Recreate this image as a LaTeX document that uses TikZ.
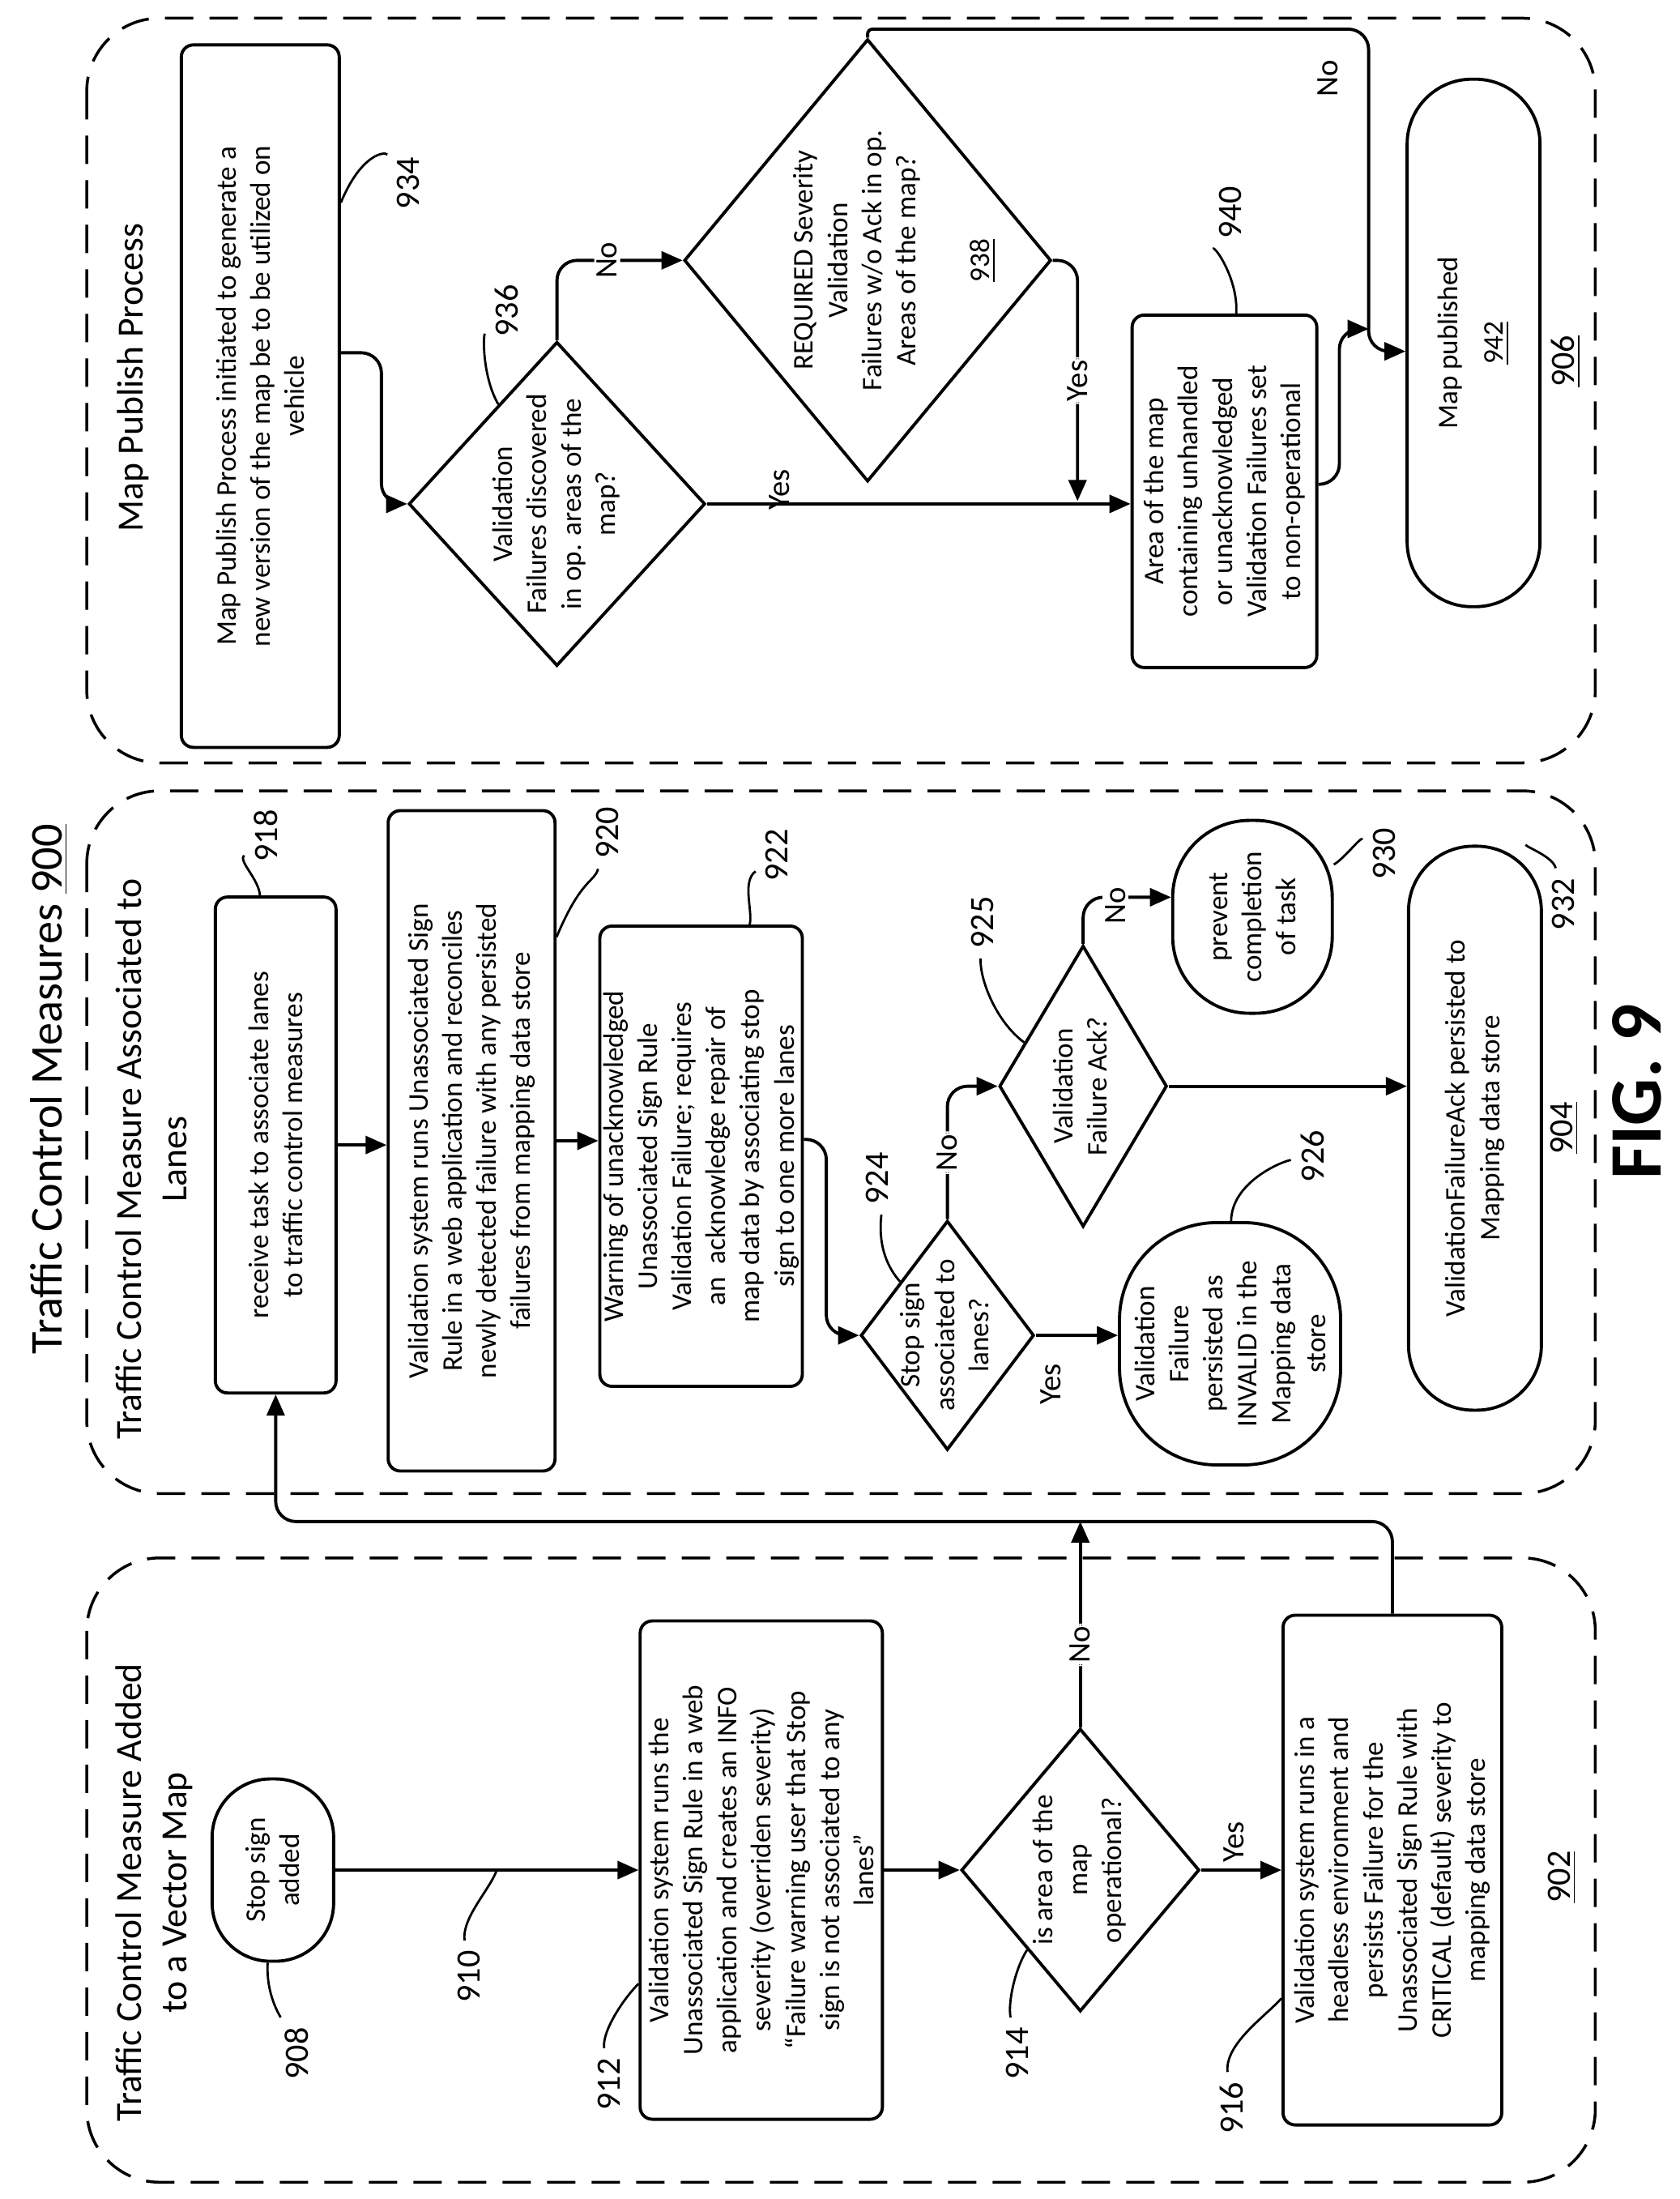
\documentclass[tikz,border=0pt]{standalone}
\usepackage{fontspec}
\setmainfont{Carlito}
\usetikzlibrary{shapes.geometric,arrows.meta,calc}
\newcommand{\dtext}[2][-2.5pt]{\smash{\makebox[0pt]{\raisebox{#1}{\begin{tabular}{@{}c@{}}#2\end{tabular}}}}}
\begin{document}
\begin{tikzpicture}[x=0.17275mm,y=-0.17275mm,>={Triangle[length=2.6mm,width=2.2mm]},
  box/.style={draw, rotate=90, align=center, inner sep=1pt, line width=1.1pt, rounded corners=1.5mm, font=\fontsize{10}{12}\selectfont},
  decision/.style={draw, diamond, rotate=90, inner sep=0pt, line width=1.1pt, font=\fontsize{10}{12}\selectfont},
  num/.style={rotate=90, font=\fontsize{12}{14}\selectfont},
  yn/.style={rotate=90, fill=white, inner sep=1pt, font=\fontsize{11}{13}\selectfont},
  arr/.style={->, line width=1.1pt, rounded corners=2.5mm},
  lead/.style={line width=0.8pt},
  frame/.style={dash pattern=on 3.5mm off 2mm, rounded corners=9mm, line width=1pt}]
  \useasboundingbox (0,0) rectangle (1200,1571);

  % panels
  \draw[frame] (62,13) rectangle (1140,545);
  \draw[frame] (62,565) rectangle (1140,1067);
  \draw[frame] (62,1113) rectangle (1140,1559);

  \node[rotate=90, font=\fontsize{16}{19}\selectfont] (title) at (35,778) {Traffic Control Measures \underline{900}};
  \node[rotate=90, font=\bfseries\fontsize{26}{30}\selectfont] (fig) at (1170,780) {FIG. 9};
  \node[rotate=90, align=center, font=\fontsize{13}{16}\selectfont] (t902) at (110,1352) {Traffic Control Measure Added\\to a Vector Map};
  \node[rotate=90, align=center, font=\fontsize{13}{16}\selectfont] (t904) at (108,828) {Traffic Control Measure Associated to\\Lanes};
  \node[rotate=90, font=\fontsize{13}{16}\selectfont] (t906) at (95,270) {Map Publish Process};

  % panel 902
  \node[box, minimum width=22.5mm, minimum height=15mm, rounded corners=7.2mm] (b908) at (195,1336) {Stop sign\\added};
  \node[box, minimum width=61.5mm, minimum height=29.9mm] (b912) at (544,1336) {Validation system runs the\\Unassociated Sign Rule in a web\\application and creates an INFO\\severity (overriden severity)\\“Failure warning user that Stop\\sign is not associated to any\\lanes”};
  \node[decision, minimum width=34.9mm, minimum height=29.4mm] (d914) at (772,1336) {\dtext{is area of the\\map\\operational?}};
  \node[box, minimum width=62.9mm, minimum height=27mm] (b916) at (995,1336) {Validation system runs in a\\headless environment and\\persists Failure for the\\Unassociated Sign Rule with\\CRITICAL (default) severity to\\mapping data store};

  % panel 904
  \node[box, minimum width=61.2mm, minimum height=14.9mm] (b918) at (197,818) {receive task to associate lanes\\to traffic control measures};
  \node[box, minimum width=81.5mm, minimum height=20.6mm] (b920) at (337,815) {Validation system runs Unassociated Sign\\Rule in a web application and reconciles\\newly detected failure with any persisted\\failures from mapping data store};
  \node[box, minimum width=56.8mm, minimum height=25mm] (b922) at (501,826) {Warning of unacknowledged\\Unassociated Sign Rule\\Validation Failure; requires\\an\ \ acknowledge repair of\\map data by associating stop\\sign to one more lanes};
  \node[decision, minimum width=28.3mm, minimum height=21.4mm] (d924) at (677,954) {\dtext{Stop sign\\associated to\\lanes?}};
  \node[decision, minimum width=34.7mm, minimum height=20.7mm] (d925) at (774,776) {\dtext{Validation\\Failure Ack?}};
  \node[box, minimum width=29.9mm, minimum height=27.3mm, rounded corners=12mm] (b926) at (879,960) {Validation\\Failure\\persisted as\\INVALID in the\\Mapping data\\store};
  \node[box, minimum width=23.8mm, minimum height=19.7mm, rounded corners=9.5mm] (b930) at (895,655) {prevent\\completion\\of task};
  \node[box, minimum width=69.6mm, minimum height=16.4mm, rounded corners=8mm] (b932) at (1054,806) {ValidationFailureAck persisted to\\Mapping data store};

  % panel 906
  \node[box, minimum width=86.7mm, minimum height=19.5mm] (b934) at (186,283) {Map Publish Process initiated to generate a\\new version of the map be to be utilized on\\vehicle};
  \node[decision, minimum width=40mm, minimum height=36.6mm] (d936) at (398,360) {\dtext{Validation\\Failures discovered\\in op. areas of the\\map?}};
  \node[decision, minimum width=54.6mm, minimum height=45.3mm] (d938) at (620,186) {\dtext[-12pt]{REQUIRED Severity\\Validation\\Failures w/o Ack in op.\\Areas of the map?\\[14pt]\underline{938}}};
  \node[box, minimum width=43.5mm, minimum height=22.8mm] (b940) at (875,351) {Area of the map\\containing unhandled\\or unacknowledged\\Validation Failures set\\to non-operational};
  \node[box, minimum width=65.1mm, minimum height=16.4mm, rounded corners=8mm] (b942) at (1053,245) {Map published\\[4pt]\underline{942}};

  % reference numbers
  \node[num] (l908) at (212,1467) {908};
  \node[num] (l910) at (335,1412) {910};
  \node[num] (l912) at (435,1489) {912};
  \node[num] (l914) at (727,1467) {914};
  \node[num] (l916) at (880,1506) {916};
  \node[num] (l902) at (1116,1341) {\underline{902}};
  \node[num] (l918) at (190,597) {918};
  \node[num] (l920) at (434,595) {920};
  \node[num] (l922) at (555,611) {922};
  \node[num] (l924) at (627,842) {924};
  \node[num] (l925) at (702,659) {925};
  \node[num] (l926) at (938,826) {926};
  \node[num] (l930) at (989,610) {930};
  \node[num] (l932) at (1117,646) {932};
  \node[num] (l904) at (1118,806) {\underline{904}};
  \node[num] (l934) at (292,131) {934};
  \node[num] (l936) at (362,222) {936};
  \node[num] (l940) at (879,152) {940};
  \node[num] (l906) at (1119,258) {\underline{906}};

  \coordinate (a910) at (355,1336);
  \draw[lead] (l908) .. controls (200,1440) and (190,1425) .. (b908);
  \draw[lead] (l910) .. controls (330,1370) and (350,1350) .. (a910);
  \draw[lead] (l912) .. controls (430,1450) and (448,1425) .. (b912);
  \draw[lead] (l914) .. controls (720,1430) and (726,1405) .. (d914);
  \draw[lead] (l916) .. controls (875,1460) and (905,1440) .. (b916);
  \draw[lead] (l918) .. controls (170,615) and (185,628) .. (b918);
  \draw[lead] (l920) .. controls (425,630) and (415,628) .. (b920);
  \draw[lead] (l922) .. controls (530,630) and (538,650) .. (b922);
  \draw[lead] (l924) .. controls (630,870) and (625,895) .. (d924);
  \draw[lead] (l925) .. controls (700,700) and (712,730) .. (d925);
  \draw[lead] (l926) .. controls (915,830) and (880,845) .. (b926);
  \draw[lead] (l930) .. controls (972,598) and (962,612) .. (b930);
  \draw[lead] (l932) .. controls (1110,612) and (1090,605) .. (b932);
  \draw[lead] (l934) .. controls (275,108) and (258,110) .. (b934);
  \draw[lead] (l936) .. controls (345,240) and (345,270) .. (d936);
  \draw[lead] (l940) .. controls (868,175) and (885,200) .. (b940);

  % connectors, panel 902
  \coordinate (j1) at (197,1087);
  \draw[arr] (b908) -- (b912);
  \draw[arr] (b912) -- (d914);
  \draw[arr] (d914) -- (b916);
  \node[yn, fill=none] (y914) at (882,1316) {Yes};
  \draw[arr] (d914.east) -- node[yn, pos=.4] (n914) {No} (d914.east |- j1);
  \draw[arr] (b916.east) |- (j1) -- (b918.west);

  % connectors, panel 904
  \draw[arr] (b918) -- (b918 -| b920.north);
  \draw[arr] (b920) -- (b920 -| b922.north);
  \draw[arr] ($(b922.south)+(0,-12)$) -- ++(16,0) |- (d924.north);
  \draw[arr] (d924.east) |- node[yn, pos=.25] (n924) {No} (d925.north);
  \draw[arr] (d924.south) -- (d924.south -| b926.north);
  \node[yn, fill=none] (y924) at (751,989) {Yes};
  \draw[arr] (d925.east) |- ($(b930.north)+(0,-14)$);
  \node[yn] (n925) at (797,647) {No};
  \draw[arr] (d925.south) -- (d925.south -| b932.north);

  % connectors, panel 906
  \coordinate (j3) at (770,358);
  \coordinate (j4) at (978,251);
  \coordinate (j5) at (978,235);
  \draw[arr] ($(b934.south)+(0,-31)$) -- ++(29,0) |- (d936.north);
  \draw[arr] (d936.east) |- node[yn, pos=.7] (n936) {No} (d938.north);
  \draw[arr] (d936.south) -- (d936.south -| b940.north);
  \node[yn, fill=none] (y936) at (557,350) {Yes};
  \draw[arr] (d938.south) -| node[yn, pos=.75] (y938) {Yes} (j3);
  \draw[arr] (d938.east) [rounded corners=0.6mm] -- ++(0,-6) [rounded corners=2.5mm] -| (j4) -- (j4 -| b942.north);
  \node[yn, fill=none] (n938) at (949,56) {No};
  \draw[arr] ($(b940.south)+(0,-5)$) -- ++(15,0) |- (j5);
\end{tikzpicture}
\end{document}
